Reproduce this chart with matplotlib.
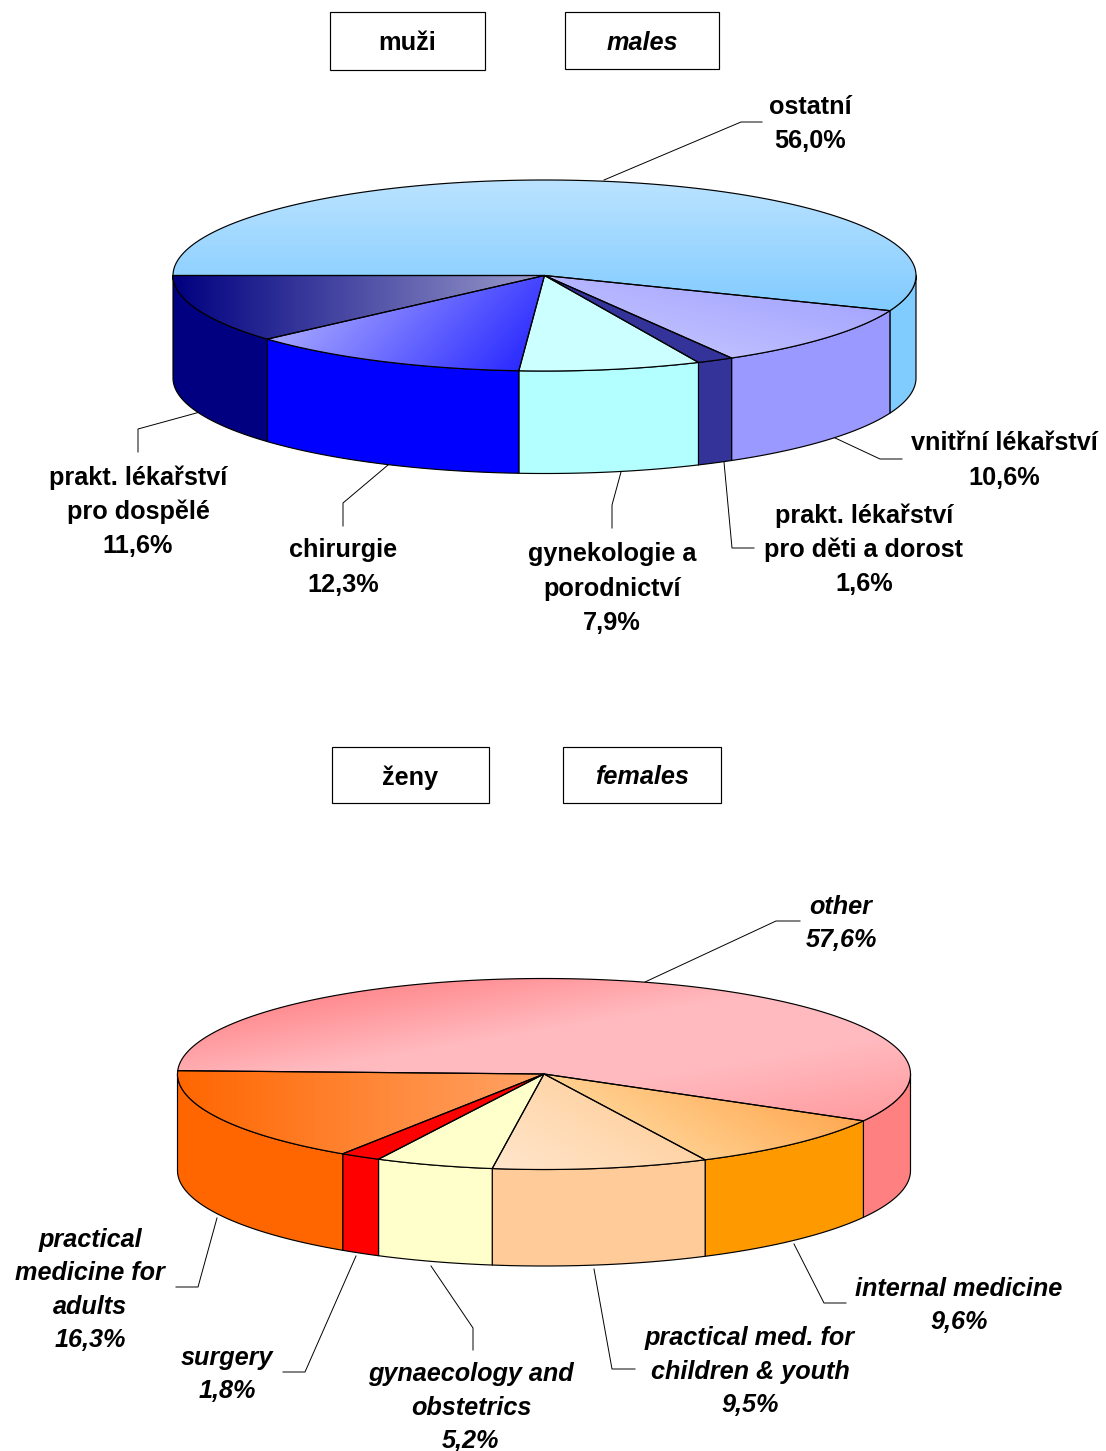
import numpy as np
import matplotlib
matplotlib.use("Agg")
import matplotlib.pyplot as plt
from matplotlib.patches import Polygon, Rectangle
from matplotlib.colors import to_rgb

male_labels = ["ostatní", "vnitřní lékařství", "prakt. lékařství\npro děti a dorost",
               "gynekologie a\nporodnictví", "chirurgie", "prakt. lékařství\npro dospělé"]
male_values = [56.0, 10.6, 1.6, 7.9, 12.3, 11.6]

female_labels = ["other", "internal medicine", "practical med. for\nchildren & youth",
                 "gynaecology and\nobstetrics", "surgery", "practical\nmedicine for\nadults"]
female_values = [57.6, 9.6, 9.5, 5.2, 1.8, 16.3]

# ---- styles and layout (pixel space of the figure) ----
W, H = 1106, 1451
plt.rcParams['font.family'] = ['Liberation Sans', 'DejaVu Sans']
FS = 18.2
LH_M, LH_F = 34.2, 33.5

male_geo = dict(cx=544.5, cy=275.5, rx=371.5, ry=95.5, depth=102.5, start=180.0)
female_geo = dict(cx=544, cy=1074, rx=366.5, ry=95.5, depth=96.5, start=178.0)

# each style: side colour, then top fill = (normal direction, stops [(pos, colour)...])
male_style = [
    ("#80CCFF", ((0, 1), [(0, "#BBE3FF"), (1, "#80CBFF")])),
    ("#9999FF", ((-0.25, 1), [(0, "#A6A6FF"), (1, "#BEBEFF")])),
    ("#333399", ((0, 1), [(0, "#333399"), (1, "#333399")])),
    ("#B3FFFF", ((0, 1), [(0, "#CCFFFF"), (1, "#CCFFFF")])),
    ("#0000FF", ((1, 0.9), [(0, "#A8A8FF"), (1, "#2A2AFF")])),
    ("#000080", ((1, 0), [(0, "#000080"), (1, "#9C9CCC")])),
]
female_style = [
    ("#FF8080", ((0.17, 1), [(0, "#FF8C90"), (0.33, "#FFBBC0"), (0.62, "#FFBBC0"), (1, "#FF9CA0")])),
    ("#FF9900", ((-0.6, 1), [(0, "#FFA850"), (1, "#FFD090")])),
    ("#FFCC99", ((-0.6, 1), [(0, "#FFD4A6"), (1, "#FFE6CC")])),
    ("#FFFFCC", ((0, 1), [(0, "#FFFFCC"), (1, "#FFFFCC")])),
    ("#FF0000", ((0, 1), [(0, "#FF0000"), (1, "#FF0000")])),
    ("#FF6600", ((1, 0), [(0, "#FF6600"), (1, "#FFA468")])),
]

male_label_pos = [(810, 104), (1004, 441), (864, 513), (612, 552), (343, 548), (138, 475)]
female_label_pos = [(841, 904), (959, 1286), (750, 1336), (471, 1372), (227, 1355), (90, 1237)]

male_leaders = [
    [(604, 180), (741, 122), (762, 122)],
    [(833, 437), (880, 459), (902, 459)],
    [(724, 462), (732, 548), (754, 548)],
    [(621, 472), (612, 505), (612, 528)],
    [(388, 465), (343, 503), (343, 526)],
    [(200, 412), (138, 429), (138, 452)],
]
female_leaders = [
    [(645, 982), (776, 921), (800, 921)],
    [(794, 1244), (824, 1303), (846, 1303)],
    [(594, 1269), (612, 1369), (635, 1369)],
    [(431, 1266), (473, 1328), (473, 1350)],
    [(356, 1256), (305, 1372), (283, 1372)],
    [(217, 1218), (198, 1287), (176, 1287)],
]

boxes = [
    ("muži", False, 330, 12, 485, 70),
    ("males", True, 565, 12, 719, 69),
    ("ženy", False, 332, 747, 489, 803),
    ("females", True, 563, 747, 721, 803),
]

fig = plt.figure(figsize=(W / 100, H / 100), dpi=100, facecolor="white")
ax = fig.add_axes([0, 0, 1, 1])
ax.set_xlim(0, W)
ax.set_ylim(H, 0)
ax.axis("off")


def ell(g, t):
    t = np.radians(t)
    return g['cx'] + g['rx'] * np.cos(t), g['cy'] - g['ry'] * np.sin(t)


def fill_gradient(poly_xy, normal, stops, z):
    patch = Polygon(poly_xy, closed=True, facecolor="none", edgecolor="black", lw=0.85, zorder=z + 0.5,
                    joinstyle="round")
    ax.add_patch(patch)
    x0, y0 = poly_xy.min(axis=0)
    x1, y1 = poly_xy.max(axis=0)
    xs, ys = np.meshgrid(np.arange(x0, x1 + 1), np.arange(y0, y1 + 1))
    proj_poly = poly_xy[:, 0] * normal[0] + poly_xy[:, 1] * normal[1]
    u = (xs * normal[0] + ys * normal[1] - proj_poly.min()) / max(np.ptp(proj_poly), 1e-6)
    pos = [s[0] for s in stops]
    rgb = np.array([to_rgb(s[1]) for s in stops])
    img = np.dstack([np.interp(u, pos, rgb[:, i]) for i in range(3)])
    im = ax.imshow(img, extent=(x0, x1 + 1, y1 + 1, y0), origin="upper", aspect="auto",
                   zorder=z, interpolation="bilinear")
    clip = Polygon(poly_xy, closed=True, transform=ax.transData)
    im.set_clip_path(clip)


def draw_pie(values, labels, style, geo, label_pos, leaders, italic, lh):
    weight_style = "italic" if italic else "normal"
    total = sum(values)
    angle = geo['start']
    edges = [angle]
    for v in values:
        angle -= v / total * 360
        edges.append(angle)

    # side walls: only the front half of the rim is visible
    for i, v in enumerate(values):
        a, b = edges[i], edges[i + 1]
        ranges = []
        for lo, hi in [(-180, 0), (-540, -360)]:
            s, e = min(a, hi), max(b, lo)
            if s > e:
                ranges.append((s, e))
        for s, e in ranges:
            t = np.linspace(s, e, 80)
            x, y = ell(geo, t)
            top = np.column_stack([x, y])
            bot = np.column_stack([x, y + geo['depth']])[::-1]
            ax.add_patch(Polygon(np.vstack([top, bot]), closed=True, facecolor=style[i][0],
                                 edgecolor="black", lw=0.85, zorder=2, joinstyle="round"))

    # top face
    for i, v in enumerate(values):
        t = np.linspace(edges[i], edges[i + 1], 160)
        x, y = ell(geo, t)
        poly = np.vstack([[geo['cx'], geo['cy']], np.column_stack([x, y])])
        normal, stops = style[i][1]
        fill_gradient(poly, normal, stops, 3 + i * 0.01)

    # leaders and labels
    for i, v in enumerate(values):
        pts = np.array(leaders[i])
        ax.plot(pts[:, 0], pts[:, 1], color="black", lw=0.7, zorder=1)
        lines = labels[i].split("\n") + [f"{v:.1f}%".replace(".", ",")]
        lx, ly = label_pos[i]
        for j, line in enumerate(lines):
            ax.text(lx, ly + j * lh, line, ha="center", va="center_baseline", fontsize=FS,
                    fontweight="bold", fontstyle=weight_style, color="black", zorder=6)


draw_pie(male_values, male_labels, male_style, male_geo, male_label_pos, male_leaders, False, LH_M)
draw_pie(female_values, female_labels, female_style, female_geo, female_label_pos, female_leaders, True, LH_F)

for text, it, x0, y0, x1, y1 in boxes:
    ax.add_patch(Rectangle((x0, y0), x1 - x0, y1 - y0, facecolor="white", edgecolor="black", lw=0.85, zorder=5))
    ax.text((x0 + x1) / 2, (y0 + y1) / 2, text, ha="center", va="center_baseline", fontsize=FS,
            fontweight="bold", fontstyle="italic" if it else "normal", zorder=6)

ax.set_xlim(0, W)
ax.set_ylim(H, 0)
fig.savefig("out.png", dpi=100)
